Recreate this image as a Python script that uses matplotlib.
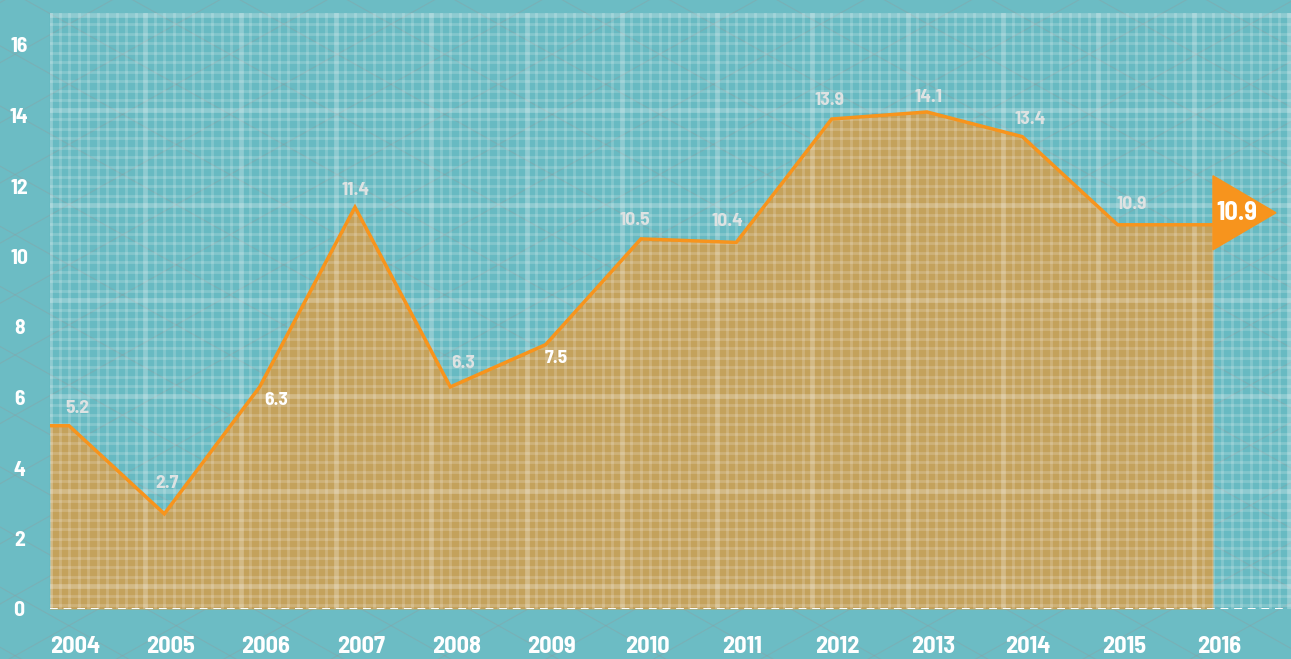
import numpy as np
import matplotlib
matplotlib.use("Agg")
from matplotlib import pyplot as plt
from matplotlib import transforms
from matplotlib.patches import Polygon

plt.rcParams["font.family"] = ["Barlow Semi Condensed", "Saira SemiCondensed",
                               "Roboto Condensed", "DejaVu Sans"]
plt.rcParams["font.weight"] = "bold"

years = ["2004", "2005", "2006", "2007", "2008", "2009", "2010",
         "2011", "2012", "2013", "2014", "2015", "2016"]
values = [5.2, 2.7, 6.3, 11.4, 6.3, 7.5, 10.5, 10.4, 13.9, 14.1, 13.4, 10.9, 10.9]
point_labels = ["5.2", "2.7", "6.3", "11.4", "6.3", "7.5", "10.5",
                "10.4", "13.9", "14.1", "13.4", "10.9"]
# label offsets in pixels (dx, dy) from each point
label_offsets = [(8, 17), (3, 30), (17, -14), (1, 17), (13, 23), (11, -14),
                 (-6, 18), (-9, 21), (-2, 19), (2, 14), (8, 17), (14, 20)]
label_colors = ["#dde2e2", "#dde2e2", "#ffffff", "#dde2e2", "#dde2e2", "#ffffff",
                "#dde2e2", "#dde2e2", "#dde2e2", "#dde2e2", "#dde2e2", "#dde2e2"]
yticks = [0, 2, 4, 6, 8, 10, 12, 14, 16]

TEAL = "#6cbcc4"
TAN = "#c4a25c"
ORANGE = "#f7941d"

W, H = 1291, 659
fig = plt.figure(figsize=(W / 100, H / 100), dpi=100)
fig.patch.set_facecolor(TEAL)

# background: faint diagonal lattice
bg = fig.add_axes([0, 0, 1, 1], zorder=0)
bg.set_xlim(0, W)
bg.set_ylim(H, 0)
bg.axis("off")
xx = np.array([-200, W + 200])
for k in range(-12, 22):
    bg.plot(xx, 0.56 * (112 + 107.4 * k - xx), color="#8c9fa2", lw=0.8, alpha=0.4)
    bg.plot(xx, 0.56 * (xx - 133 - 107.4 * k), color="#8c9fa2", lw=0.8, alpha=0.4)
# grid panel
bg.add_patch(plt.Rectangle((49, 13), W - 49, 609 - 13, color="#66b9c1", lw=0, alpha=0.6))

# main chart
x0, x1 = 50, W
ax = fig.add_axes([x0 / W, (H - 609) / H, (x1 - x0) / W, (609 - 13) / H], zorder=1)
ax.set_facecolor("none")
step = 95.33
xl = (x0 - 69) / step
ax.set_xlim(xl, (x1 - 69) / step)
ax.set_ylim(0, (609 - 13) / 35.25)
for s in ax.spines.values():
    s.set_visible(False)

idx = np.arange(len(years))
xs = np.r_[xl, idx]
ys = np.r_[values[0], values]
ax.fill_between(xs, ys, 0, color=TAN, lw=0, zorder=1)

# grid overlay (drawn on top of the fill)
gx = fig.add_axes(ax.get_position(), zorder=2)
gx.set_facecolor("none")
gx.axis("off")
gx.set_xlim(x0, x1)
gx.set_ylim(609, 13)
for i, gxv in enumerate(np.arange(50, W + 1, 9.53)):
    major = i % 10 == 0
    gx.axvline(gxv, color="white", alpha=0.26 if major else 0.18, lw=3.4 if major else 2.0)
for i, gyv in enumerate(np.arange(14.5, 610, 9.53)):
    major = i % 10 == 0
    gx.axhline(gyv, color="white", alpha=0.26 if major else 0.18, lw=3.4 if major else 2.0)

top = fig.add_axes(ax.get_position(), zorder=3, sharex=ax, sharey=ax)
top.set_facecolor("none")
top.axis("off")
top.plot(xs, ys, color=ORANGE, lw=2.5, solid_joinstyle="miter", zorder=3)
top.plot([xl, 12.75], [0, 0], color="white", lw=1.4, ls=(0, (4, 3)), zorder=3)

for i, lab in enumerate(point_labels):
    dx, dy = label_offsets[i]
    top.annotate(lab, (idx[i], values[i]), xytext=(dx, dy), textcoords="offset pixels",
                 ha="center", va="center", fontsize=14, fontweight="bold",
                 color=label_colors[i])

# end arrow marker at last point
tr = fig.dpi_scale_trans + transforms.ScaledTranslation(idx[-1], values[-1], top.transData)
tri = Polygon([(0, 0.49), (0, -0.25), (0.63, 0.12)], closed=True, color=ORANGE,
              transform=tr, zorder=4, clip_on=False)
top.add_patch(tri)
top.annotate(point_labels[-1], (idx[-1], values[-1]), xytext=(24, 12),
             textcoords="offset pixels", ha="center", va="center",
             fontsize=19, color="white", zorder=5)

# ticks
ax.set_yticks(yticks)
ax.set_yticklabels([str(t) for t in yticks])
ax.set_xticks(idx)
ax.set_xticklabels(years)
ax.tick_params(axis="both", length=0, colors="white")
ax.tick_params(axis="y", pad=15, labelsize=15.5)
ax.tick_params(axis="x", pad=19.5, labelsize=17.5)
off = transforms.ScaledTranslation(6 / 100, 0, fig.dpi_scale_trans)
for t in ax.get_xticklabels():
    t.set_transform(t.get_transform() + off)
for t in ax.get_yticklabels():
    t.set_horizontalalignment("center")
    t.set_transform(t.get_transform() + transforms.ScaledTranslation(-10 / 100, 0, fig.dpi_scale_trans))

fig.savefig("out.png", dpi=100, facecolor=TEAL)
